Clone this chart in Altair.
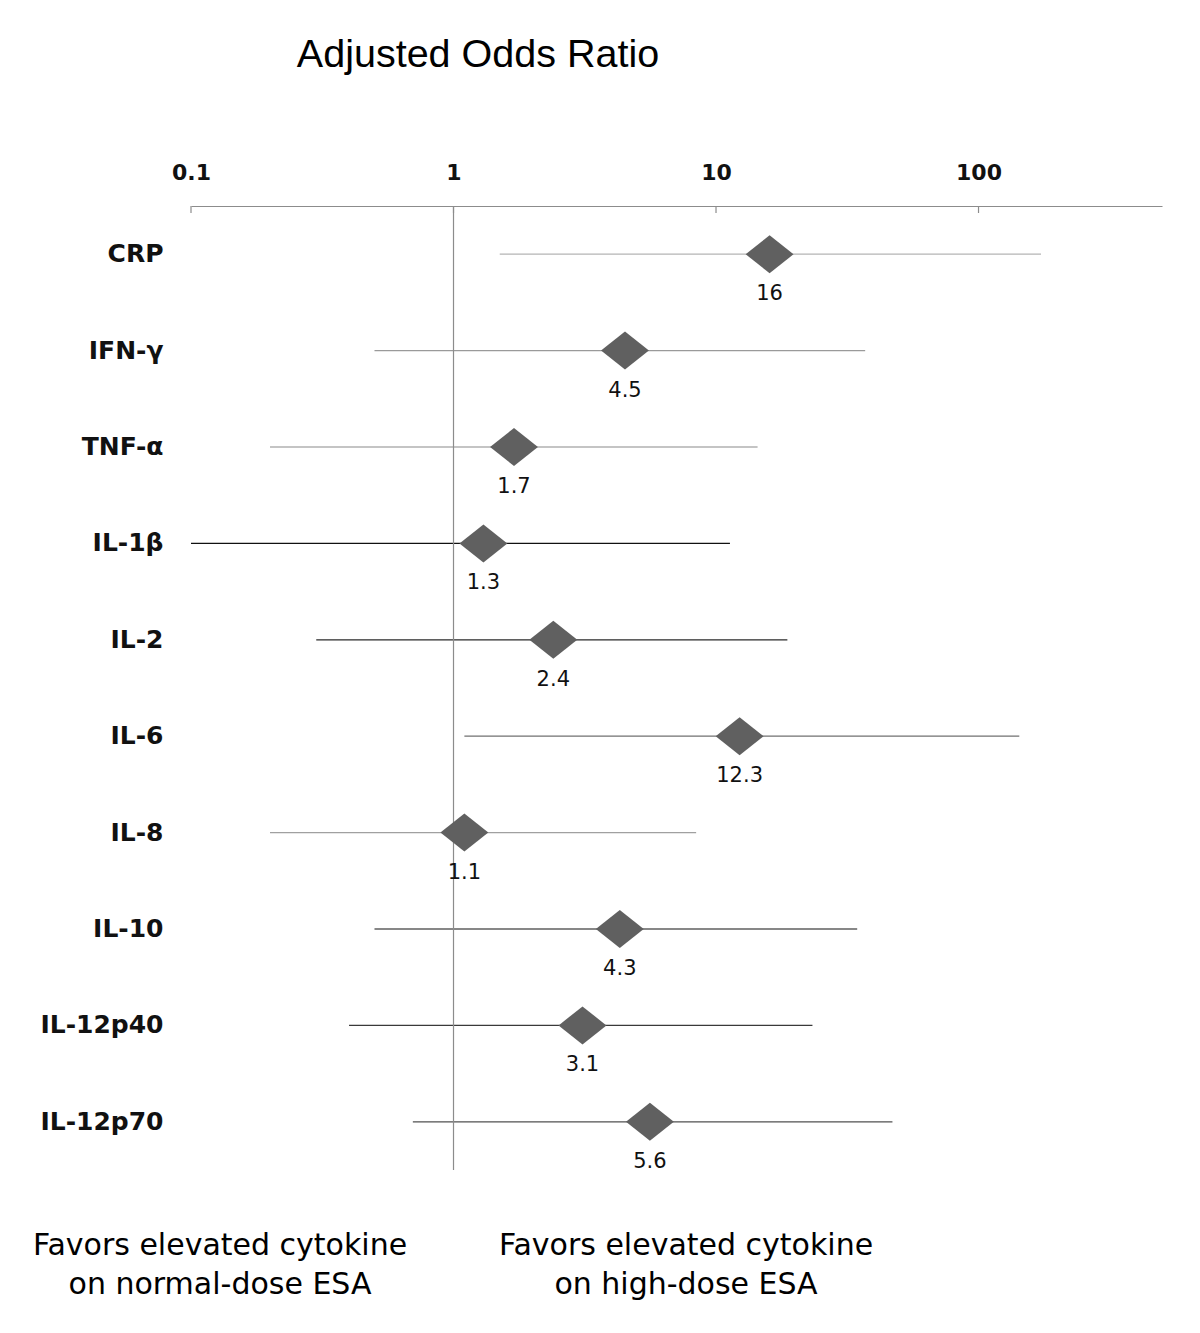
import altair as alt
import pandas as pd

# ---- data ----
cytokines = ["CRP", "IFN-γ", "TNF-α", "IL-1β", "IL-2", "IL-6", "IL-8", "IL-10", "IL-12p40", "IL-12p70"]
odds_ratio = [16, 4.5, 1.7, 1.3, 2.4, 12.3, 1.1, 4.3, 3.1, 5.6]
ci_lower = [1.5, 0.5, 0.2, 0.1, 0.3, 1.1, 0.2, 0.5, 0.4, 0.7]
ci_upper = [173, 37, 14.4, 11.3, 18.7, 143, 8.4, 34.5, 23.3, 47]
or_labels = ["16", "4.5", "1.7", "1.3", "2.4", "12.3", "1.1", "4.3", "3.1", "5.6"]
tick_values = [0.1, 1, 10, 100]
title_text = "Adjusted Odds Ratio"
left_note = ["Favors elevated cytokine", "on normal-dose ESA"]
right_note = ["Favors elevated cytokine", "on high-dose ESA"]

df = pd.DataFrame({
    "cytokine": cytokines,
    "or": odds_ratio,
    "lo": ci_lower,
    "hi": ci_upper,
    "label": or_labels,
})

# ---- styling ----
FONT = "Liberation Sans, Arial, Helvetica, sans-serif"
WIDE = "DejaVu Sans, Verdana, sans-serif"
W, H = 971, 964
line_colors = ["#b4b4b4", "#9a9a9a", "#8a8a8a", "#111111", "#2a2a2a",
               "#707070", "#a0a0a0", "#111111", "#3a3a3a", "#505050"]

xscale = alt.Scale(type="log", domain=[0.1, 500], nice=False)
yenc = alt.Y("cytokine:N", sort=cytokines,
             axis=alt.Axis(title=None, domain=False, ticks=False, labelFont=WIDE,
                           labelFontSize=25, labelFontWeight="bold", labelColor="#111",
                           labelPadding=28, labelAlign="right"))

base = alt.Chart(df)

ci = base.mark_rule(strokeWidth=1.2).encode(
    x=alt.X("lo:Q", scale=xscale,
            axis=alt.Axis(orient="top", title=None, values=tick_values, format="~g",
                          grid=False, ticks=False, domainColor="#8c8c8c", domainWidth=1.2,
                          labelFont=WIDE, labelFontSize=22, labelFontWeight="bold",
                          labelColor="#111", labelPadding=22, labelFlush=False,
                          labelOverlap=False)),
    x2="hi:Q",
    y=yenc,
    color=alt.Color("cytokine:N", scale=alt.Scale(domain=cytokines, range=line_colors), legend=None),
)

diamonds = base.mark_point(
    shape="M -1.26 0 L 0 -1 L 1.26 0 L 0 1 Z", size=1444, filled=True,
    color="#606060", opacity=1, strokeWidth=0,
).encode(x=alt.X("or:Q", scale=xscale), y=alt.Y("cytokine:N", sort=cytokines))

value_text = base.mark_text(
    dy=40, baseline="middle", align="center", font=WIDE, fontSize=21, color="#111",
).encode(x=alt.X("or:Q", scale=xscale), y=alt.Y("cytokine:N", sort=cytokines), text="label:N")

ref_df = pd.DataFrame({"v": [1]})
ref_line = alt.Chart(ref_df).mark_rule(color="#8c8c8c", strokeWidth=1.2).encode(
    x=alt.X("v:Q", scale=xscale), y=alt.value(0), y2=alt.value(H))

tick_df = pd.DataFrame({"t": tick_values})
ticks = alt.Chart(tick_df).mark_rule(color="#8c8c8c", strokeWidth=1.2).encode(
    x=alt.X("t:Q", scale=xscale), y=alt.value(0), y2=alt.value(7))

title_df = pd.DataFrame({"t": [title_text]})
title = alt.Chart(title_df).mark_text(
    font=FONT, fontSize=39.5, color="#000", align="center", baseline="alphabetic",
).encode(text="t:N", x=alt.value(287), y=alt.value(-139))

notes_df = pd.DataFrame({"t": ["\n".join(left_note), "\n".join(right_note)],
                         "pos": ["left", "right"]})
note_l = alt.Chart(notes_df).transform_filter(alt.datum.pos == "left").mark_text(
    font=WIDE, fontSize=30, color="#000", align="center", baseline="alphabetic",
    lineBreak="\n", lineHeight=39,
).encode(text="t:N", x=alt.value(29), y=alt.value(1049))
note_r = alt.Chart(notes_df).transform_filter(alt.datum.pos == "right").mark_text(
    font=WIDE, fontSize=30, color="#000", align="center", baseline="alphabetic",
    lineBreak="\n", lineHeight=39,
).encode(text="t:N", x=alt.value(495), y=alt.value(1049))

chart = alt.layer(ci, ticks, ref_line, diamonds, value_text, title, note_l, note_r).properties(
    width=W, height=H,
    autosize=alt.AutoSizeParams(type="none"),
    padding={"left": 183, "top": 198, "right": 20, "bottom": 140},
    background="white",
).configure_view(stroke=None, strokeWidth=0)

chart.save("out.html", embed_options={"renderer": "svg", "actions": False})
